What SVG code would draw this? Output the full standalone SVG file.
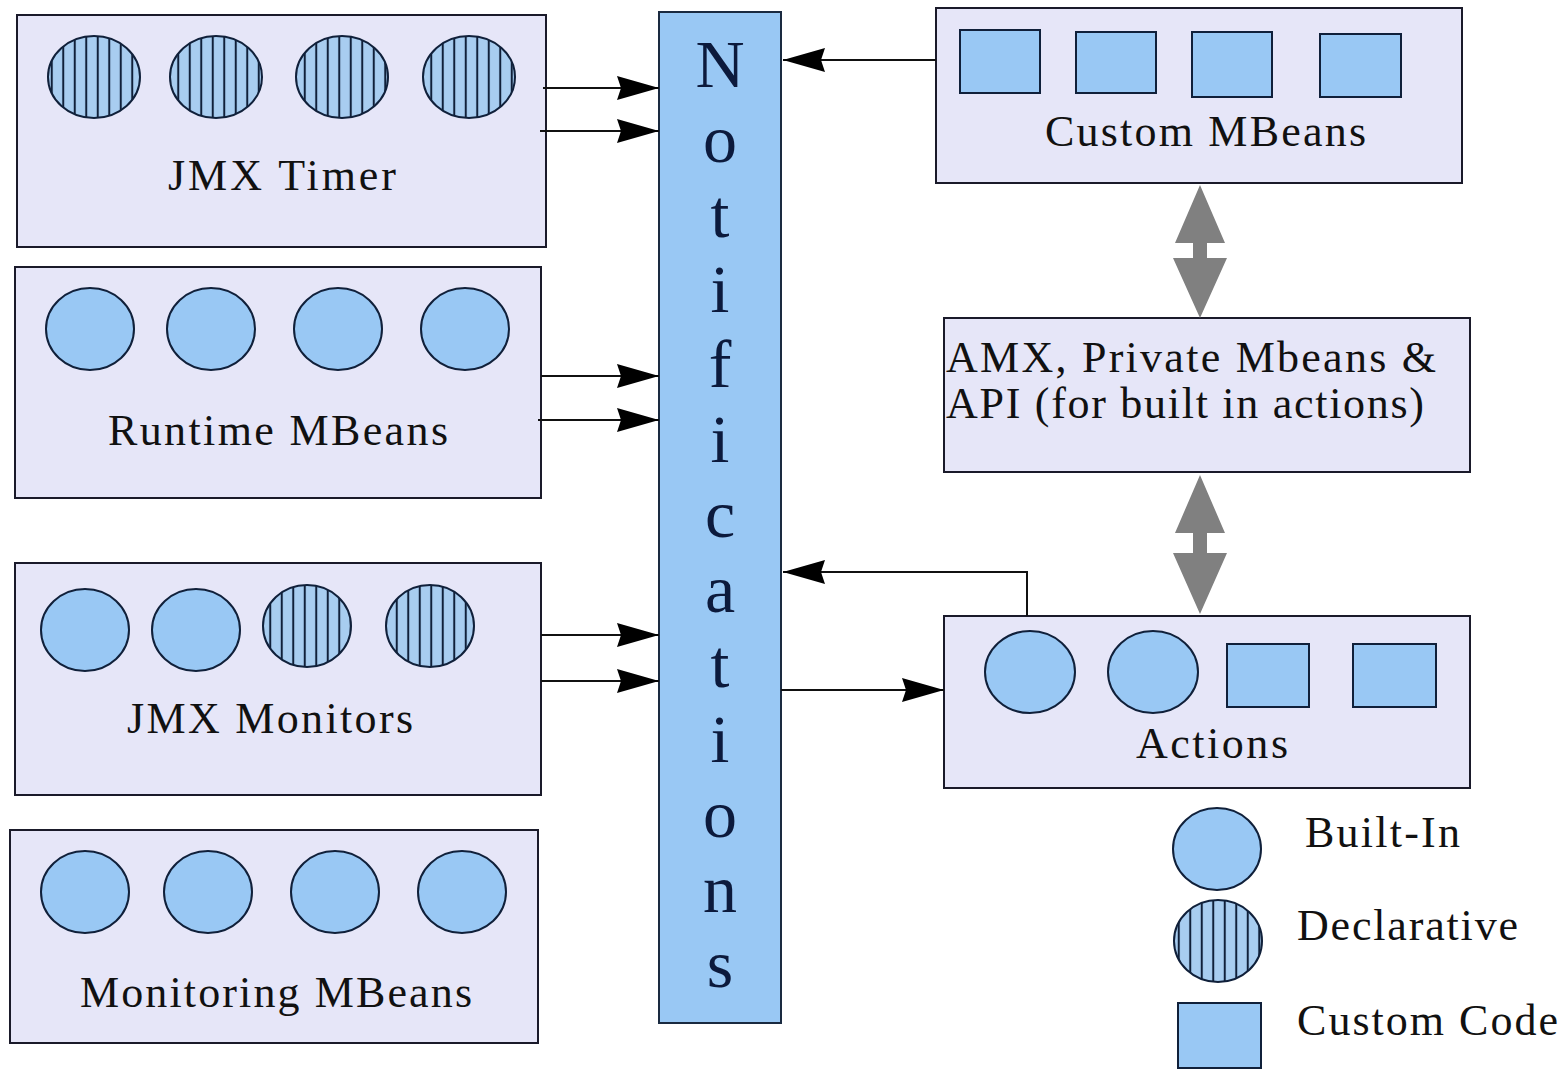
<svg xmlns="http://www.w3.org/2000/svg" width="1568" height="1070" viewBox="0 0 1568 1070">
<style>
.box{fill:#e6e6f8;stroke:#1a1a2a;stroke-width:2}
.bi{fill:#99c8f4;stroke:#10203a;stroke-width:2}
.dc{fill:url(#stripes);stroke:#10203a;stroke-width:2}
.sq{fill:#99c8f4;stroke:#10203a;stroke-width:2}
.lbl{font-family:"Liberation Serif","Times New Roman",serif;font-size:44px;fill:#111}
.notif{font-family:"Liberation Serif","Times New Roman",serif;font-size:68px;fill:#0c1a3c;text-anchor:middle}
.con{stroke:#111;stroke-width:2;fill:none}
.gray{fill:#808080}
</style>
<defs>
<pattern id="stripes" patternUnits="userSpaceOnUse" width="11.5" height="10">
<rect width="11.5" height="10" fill="#a8cdf0"/>
<line x1="5.75" y1="0" x2="5.75" y2="10" stroke="#10203a" stroke-width="2"/>
</pattern>
<marker id="ah" markerUnits="userSpaceOnUse" markerWidth="44" markerHeight="26" refX="42" refY="13" orient="auto">
<path d="M0,1 L42,13 L0,25 L4,13 z" fill="#000"/>
</marker>
</defs>

<g id="jmx-timer">
<rect class="box" x="17" y="15" width="529" height="232"/>
<ellipse class="dc" cx="94" cy="77" rx="46" ry="41"/>
<ellipse class="dc" cx="216" cy="77" rx="46" ry="41"/>
<ellipse class="dc" cx="342" cy="77" rx="46" ry="41"/>
<ellipse class="dc" cx="469" cy="77" rx="46" ry="41"/>
<text class="lbl" x="168" y="190" textLength="228">JMX Timer</text>
</g>

<g id="runtime-mbeans">
<rect class="box" x="15" y="267" width="526" height="231"/>
<ellipse class="bi" cx="90" cy="329" rx="44" ry="41"/>
<ellipse class="bi" cx="211" cy="329" rx="44" ry="41"/>
<ellipse class="bi" cx="338" cy="329" rx="44" ry="41"/>
<ellipse class="bi" cx="465" cy="329" rx="44" ry="41"/>
<text class="lbl" x="108" y="445" textLength="340">Runtime MBeans</text>
</g>

<g id="jmx-monitors">
<rect class="box" x="15" y="563" width="526" height="232"/>
<ellipse class="bi" cx="85" cy="630" rx="44" ry="41"/>
<ellipse class="bi" cx="196" cy="630" rx="44" ry="41"/>
<ellipse class="dc" cx="307" cy="626" rx="44" ry="41"/>
<ellipse class="dc" cx="430" cy="626" rx="44" ry="41"/>
<text class="lbl" x="127" y="733" textLength="286">JMX Monitors</text>
</g>

<g id="monitoring-mbeans">
<rect class="box" x="10" y="830" width="528" height="213"/>
<ellipse class="bi" cx="85" cy="892" rx="44" ry="41"/>
<ellipse class="bi" cx="208" cy="892" rx="44" ry="41"/>
<ellipse class="bi" cx="335" cy="892" rx="44" ry="41"/>
<ellipse class="bi" cx="462" cy="892" rx="44" ry="41"/>
<text class="lbl" x="80" y="1007" textLength="392">Monitoring MBeans</text>
</g>

<g id="notifications">
<rect x="659" y="12" width="122" height="1011" fill="#99c8f4" stroke="#1a2a40" stroke-width="2"/>
<text class="notif" x="720" y="87">N</text>
<text class="notif" x="720" y="162">o</text>
<text class="notif" x="720" y="237">t</text>
<text class="notif" x="720" y="312">i</text>
<text class="notif" x="720" y="387">f</text>
<text class="notif" x="720" y="462">i</text>
<text class="notif" x="720" y="537">c</text>
<text class="notif" x="720" y="612">a</text>
<text class="notif" x="720" y="687">t</text>
<text class="notif" x="720" y="762">i</text>
<text class="notif" x="720" y="837">o</text>
<text class="notif" x="720" y="912">n</text>
<text class="notif" x="720" y="987">s</text>
</g>

<g id="custom-mbeans">
<rect class="box" x="936" y="8" width="526" height="175"/>
<rect class="sq" x="960" y="30" width="80" height="63"/>
<rect class="sq" x="1076" y="32" width="80" height="61"/>
<rect class="sq" x="1192" y="32" width="80" height="65"/>
<rect class="sq" x="1320" y="34" width="81" height="63"/>
<text class="lbl" x="1045" y="146" textLength="321">Custom MBeans</text>
</g>

<g id="amx">
<rect class="box" x="944" y="318" width="526" height="154"/>
<text class="lbl" x="946" y="372" textLength="490">AMX, Private Mbeans &amp;</text>
<text class="lbl" x="946" y="418" textLength="478">API (for built in actions)</text>
</g>

<g id="actions">
<rect class="box" x="944" y="616" width="526" height="172"/>
<ellipse class="bi" cx="1030" cy="672" rx="45" ry="41"/>
<ellipse class="bi" cx="1153" cy="672" rx="45" ry="41"/>
<rect class="sq" x="1227" y="644" width="82" height="63"/>
<rect class="sq" x="1353" y="644" width="83" height="63"/>
<text class="lbl" x="1136" y="758" textLength="152">Actions</text>
</g>

<g id="legend">
<ellipse class="bi" cx="1217" cy="849" rx="44" ry="41"/>
<ellipse class="dc" cx="1218" cy="941" rx="44" ry="41"/>
<rect class="sq" x="1178" y="1003" width="83" height="65"/>
<text class="lbl" x="1305" y="847" textLength="155">Built-In</text>
<text class="lbl" x="1297" y="940" textLength="221">Declarative</text>
<text class="lbl" x="1297" y="1035" textLength="261">Custom Code</text>
</g>

<g id="connectors">
<line class="con" x1="543" y1="88" x2="659" y2="88" marker-end="url(#ah)"/>
<line class="con" x1="540" y1="131" x2="659" y2="131" marker-end="url(#ah)"/>
<line class="con" x1="541" y1="376" x2="659" y2="376" marker-end="url(#ah)"/>
<line class="con" x1="538" y1="420" x2="659" y2="420" marker-end="url(#ah)"/>
<line class="con" x1="541" y1="635" x2="659" y2="635" marker-end="url(#ah)"/>
<line class="con" x1="541" y1="681" x2="659" y2="681" marker-end="url(#ah)"/>
<line class="con" x1="936" y1="60" x2="783" y2="60" marker-end="url(#ah)"/>
<polyline class="con" points="1027,616 1027,572 783,572" marker-end="url(#ah)"/>
<line class="con" x1="781" y1="690" x2="944" y2="690" marker-end="url(#ah)"/>
<path class="gray" d="M1200,185 L1225,243 L1207,243 L1207,258 L1227,258 L1200,318 L1173,258 L1193,258 L1193,243 L1175,243 z"/>
<path class="gray" d="M1200,475 L1225,533 L1207,533 L1207,553 L1227,553 L1200,614 L1173,553 L1193,553 L1193,533 L1175,533 z"/>
</g>
</svg>
